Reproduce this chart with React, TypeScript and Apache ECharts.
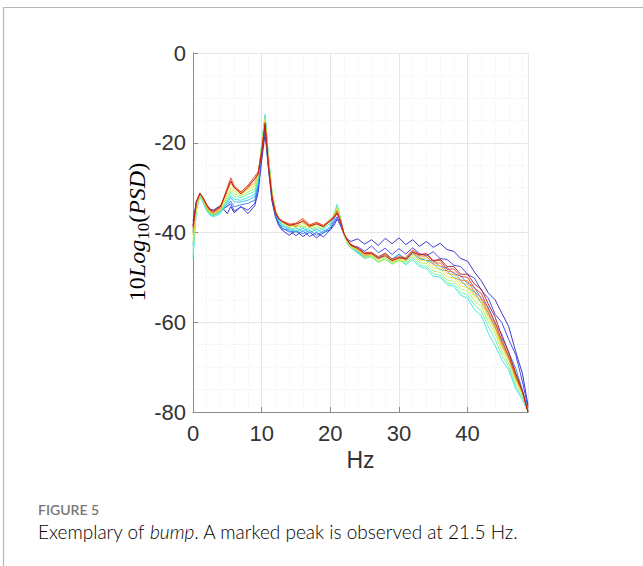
import React, { useEffect, useRef } from "react";
import * as echarts from "echarts";

// Frequency grid (Hz)
const freqs = [0, 0.5, 1, 1.5, 2, 2.5, 3, 4, 5, 5.5, 6, 7, 8, 9, 9.5, 10, 10.5, 11, 11.5, 12, 12.5, 13, 14, 15, 16, 17, 18, 19, 20, 20.5, 21, 21.5, 22, 22.5, 23, 24, 25, 26, 27, 28, 29, 30, 31, 32, 33, 34, 35, 36, 37, 38, 39, 40, 41, 42, 43, 44, 45, 46, 47, 48, 48.8];

// 10*log10(PSD) for each recording (jet colour order: blue -> red)
const psd0 = [-37.5, -33, -32, -32.8, -34, -34.8, -35,
  -34, -35.8, -34.2, -35.6, -34.2, -35.8, -34, -31,
  -24, -18, -26, -33, -36.5, -38.5, -39.5,
  -40.6, -39.6, -40.9, -39.9, -41.2, -40, -39.4,
  -38.5, -37, -38.5, -40.5, -41.5, -42,
  -41.4, -42.6, -41.6, -42.9, -41.3, -42.5, -41.2, -42.7, -41.6, -43.1, -42, -43.3, -42.4, -43.8, -44.2, -45.8, -46.4, -48.8, -50.8, -53.4, -55, -58, -61, -66.5, -71.5,
  -78.5];
const psd1 = [-38.5, -33.5, -32, -33, -34.5, -35.5, -35.8,
  -35, -34.2, -33.6, -35.2, -34.3, -35, -33.5, -30,
  -23, -17, -25, -32.5, -36, -38, -39.2,
  -39.5, -40.7, -39.6, -40.9, -40, -41, -39.4,
  -38, -36.5, -38, -40.5, -42, -43,
  -43.2, -44.2, -43, -44.5, -43.5, -44.9, -43.6, -44.8, -43.4, -44.7, -45.2, -44.3, -45.8, -46, -47.3, -47.6, -49.3, -50.2, -52.9, -54.6, -58.2, -60.1, -63.9, -67.2, -73.3,
  -79];
const psd2 = [-40, -33.8, -31.8, -33, -34.8, -35.8, -36,
  -35.3, -34, -33, -34.3, -33.8, -33.5, -32.8, -29.5,
  -21.5, -14.5, -24, -32, -36, -38, -39,
  -39.9, -39.6, -40.3, -39.5, -40.6, -39.7, -39,
  -37.5, -35, -37.5, -40.5, -42, -43,
  -44.4, -45.5, -44.6, -45.8, -44.7, -46, -44.9, -46.2, -44.6, -45.8, -46.3, -46.2, -47.6, -47.8, -49.2, -49.7, -51.3, -52.2, -54.8, -56.6, -60.3, -62.7, -66.8, -70.2, -75.2,
  -79.5];
const psd3 = [-43, -34, -31.8, -33.2, -35, -36, -36.2,
  -35.5, -33.5, -32.2, -33.2, -33.2, -32.8, -32, -29,
  -21, -14.2, -23.5, -31.5, -35.5, -37.5, -38.6,
  -39.1, -40, -39, -40.1, -39.2, -40.3, -38.6,
  -36.8, -34.2, -37, -40.5, -42.2, -43.2,
  -44.3, -45.3, -44.7, -45.6, -44.6, -45.9, -44.8, -45.9, -44.5, -45.6, -46.3, -46.9, -48.3, -48.5, -50.1, -50.6, -52.3, -53.2, -55.8, -57.7, -61.3, -63.7, -67.8, -71.2, -75.7,
  -79.8];
const psd4 = [-46, -35, -32, -33.5, -35.2, -36.2, -36.5,
  -35.8, -33, -31.8, -32.6, -32.8, -32.2, -31.5, -28,
  -20, -13.7, -23, -31, -35, -37.2, -38.4,
  -39.5, -39, -39.8, -38.9, -39.8, -39.1, -38,
  -36, -33.7, -36.8, -40.6, -42.5, -43.5,
  -44.2, -45.6, -45.2, -46.5, -45.5, -46.9, -45.9, -47.2, -46.1, -47.6, -48, -49.8, -49.9, -51.6, -52, -54, -54.6, -57.2, -58.5, -62.4, -65.2, -68.4, -70.7, -74.8, -77.3,
  -80];
const psd5 = [-45, -34.8, -31.8, -33.2, -35, -36, -36.3,
  -35.5, -32.5, -31, -32, -32.2, -31.5, -30.8, -27.5,
  -20.5, -14, -23.2, -31, -35, -37, -38.2,
  -38.8, -39.6, -38.5, -39.7, -38.7, -39.5, -37.8,
  -36.2, -34, -37, -40.6, -42.4, -43.4,
  -44.7, -45.8, -45.5, -46.7, -45.9, -47, -46.1, -46.9, -45.6, -47.2, -47.5, -49.2, -49.5, -51.2, -51.5, -53.4, -53.9, -56.2, -57.5, -61, -63.7, -67.4, -69.9, -74.2, -76.8,
  -80];
const psd6 = [-44, -34.5, -31.6, -33, -34.8, -35.8, -36,
  -35.2, -32, -30.5, -31.4, -31.8, -31, -30.2, -27.5,
  -20.8, -14.5, -23.5, -31, -35, -36.8, -37.8,
  -38.9, -38.4, -38.8, -38.5, -39.1, -38.4, -37.6,
  -36.2, -34.2, -37.2, -40.6, -42.3, -43.3,
  -44, -45.4, -45.3, -46.6, -46, -47.1, -46.3, -46.6, -45.2, -46.7, -46.9, -48.6, -48.9, -50.6, -50.9, -52.6, -53, -55.2, -56.5, -59.8, -62.5, -66.4, -69.2, -73.4, -76.3,
  -80];
const psd7 = [-42, -34, -31.5, -32.8, -34.5, -35.5, -35.8,
  -35, -31.5, -30, -30.8, -31.5, -30.5, -29.5, -27,
  -21, -15, -24, -31.2, -35, -36.8, -37.8,
  -38.3, -38.9, -37.9, -39, -38.2, -38.9, -37.4,
  -36.3, -34.5, -37.2, -40.5, -42.2, -43.2,
  -43.9, -45.3, -45, -46.4, -45.5, -46.7, -46.1, -46.4, -44.9, -46.2, -46.3, -47.9, -48.1, -49.9, -50.1, -51.9, -52.3, -54.4, -55.7, -58.9, -61.7, -65.6, -68.5, -72.8, -76,
  -80];
const psd8 = [-40.5, -33.6, -31.4, -32.6, -34.3, -35.3, -35.6,
  -34.8, -30.6, -29, -30.2, -31.2, -30, -29, -26.8,
  -21.5, -15.5, -24.5, -31.5, -35.2, -36.8, -37.6,
  -38.6, -38.1, -37.6, -38.8, -37.9, -38.7, -37.3,
  -36.5, -35, -37.3, -40.4, -42, -43,
  -43.8, -45.1, -44.9, -46, -45, -46.4, -45.8, -46, -44.5, -45.7, -45.7, -47.2, -47.4, -49.1, -49.4, -51.2, -51.6, -53.9, -55.1, -58.4, -61.2, -65.2, -68.2, -72.5, -75.8,
  -80];
const psd9 = [-39.5, -33.4, -31.4, -32.5, -34.2, -35.2, -35.5,
  -34.5, -30.2, -28.5, -29.9, -31, -29.6, -28.2, -26.5,
  -21.8, -15.6, -24.8, -31.8, -35.3, -36.8, -37.5,
  -38, -38.7, -37.2, -38.5, -37.9, -38.6, -37.3,
  -36.6, -35.2, -37.4, -40.3, -41.8, -42.8,
  -43.5, -44.9, -44.7, -45.8, -44.9, -46.2, -45.6, -45.9, -44.2, -45.2, -45.3, -46.8, -46.8, -48.6, -48.8, -50.6, -50.8, -53.2, -54.5, -57.8, -60.7, -64.8, -67.9, -72.2, -75.6,
  -80];
const psd10 = [-39, -33.2, -31.3, -32.4, -34, -35, -35.4,
  -34.3, -30, -27.8, -29.6, -31, -29.5, -27.5, -26.5,
  -22, -15.5, -25, -32, -35.5, -36.8, -37.4,
  -38.2, -37.9, -36.9, -38.3, -37.7, -38.4, -37.1,
  -36.5, -35.5, -37.5, -40.2, -41.6, -42.6,
  -43.4, -44.5, -44.4, -45.4, -44.6, -45.9, -45.4, -45.6, -43.9, -44.9, -44.8, -46.4, -46.2, -48.2, -48.1, -49.8, -50, -52.4, -53.6, -57, -59.9, -64.2, -67.5, -71.9, -75.5,
  -80];
const psd11 = [-38.5, -33, -31.2, -32.3, -33.8, -34.8, -35.2,
  -34.2, -30.6, -28.5, -30, -31.4, -30, -28, -27,
  -22.5, -16, -25.5, -32.2, -35.6, -37, -37.6,
  -38.4, -38.1, -37.5, -38.6, -38.1, -38.7, -37.4,
  -36.8, -35.8, -37.6, -40.3, -41.7, -42.8,
  -43.6, -44.7, -44.6, -45.7, -45.2, -46.3, -45.6, -45.9, -44.4, -45, -44.7, -46.3, -45.9, -47.6, -47.6, -49.3, -49.3, -51.5, -52.6, -55.9, -58.8, -63.2, -66.7, -71.3, -75.3,
  -80];

const seriesValues = [psd0, psd1, psd2, psd3, psd4, psd5, psd6, psd7, psd8, psd9, psd10, psd11];
const seriesColors = ["#2626c4", "#3a3af0", "#2f7ff5", "#29b8f0", "#33e6e6", "#66f2a6", "#a6f266", "#e6e633", "#f5b52e", "#f5782a", "#e63a1f", "#b31a1a"];

const xTickInterval = 10;
const yTickInterval = 20;

export default function App() {
  const ref = useRef<HTMLDivElement>(null);

  useEffect(() => {
    if (!ref.current) return;
    const chart = echarts.init(ref.current, undefined, { renderer: "svg" });
    const axisFont = "'Liberation Sans', Arial, Helvetica, sans-serif";
    const capFont = "Lato, 'Open Sans', sans-serif";
    const mathFont = "'Liberation Serif', 'Times New Roman', serif";

    const series = seriesValues.map((vals, k) => ({
      type: "line",
      name: "rec" + k,
      data: freqs.map((f, i) => [f, vals[i]]),
      showSymbol: false,
      symbol: "none",
      lineStyle: { width: 1, color: seriesColors[k], opacity: 0.9 },
      itemStyle: { color: seriesColors[k] },
      z: 3 + k,
      silent: true,
    }));

    chart.setOption({
      animation: false,
      backgroundColor: "#ffffff",
      grid: { left: 193, top: 53, width: 335, height: 359, containLabel: false },
      xAxis: {
        type: "value",
        min: 0,
        max: 48.8,
        interval: xTickInterval,
        name: "Hz",
        nameLocation: "middle",
        nameGap: 33,
        nameTextStyle: { fontFamily: axisFont, fontSize: 23, color: "#333333" },
        axisLine: { show: true, onZero: false, lineStyle: { color: "#8c8c8c", width: 1 } },
        axisTick: { show: true, inside: true, length: 5, lineStyle: { color: "#8c8c8c" } },
        axisLabel: { fontFamily: axisFont, fontSize: 22, color: "#333333", margin: 10, showMaxLabel: false },
        splitLine: { show: true, lineStyle: { color: "#e6e6e6", width: 1 } },
        minorTick: { show: false, splitNumber: 5 },
        minorSplitLine: { show: true, lineStyle: { color: "#ececec", width: 1, type: [1, 2] } },
      },
      yAxis: {
        type: "value",
        min: -80,
        max: 0,
        interval: yTickInterval,
        axisLine: { show: true, onZero: false, lineStyle: { color: "#8c8c8c", width: 1 } },
        axisTick: { show: true, inside: true, length: 5, lineStyle: { color: "#8c8c8c" } },
        axisLabel: { fontFamily: axisFont, fontSize: 22, color: "#333333", margin: 7 },
        splitLine: { show: true, lineStyle: { color: "#e6e6e6", width: 1 } },
        minorTick: { show: false, splitNumber: 4 },
        minorSplitLine: { show: true, lineStyle: { color: "#ececec", width: 1, type: [1, 2] } },
      },
      series,
      graphic: [
        { type: "line", shape: { x1: 3.5, y1: 7.5, x2: 643, y2: 7.5 }, style: { stroke: "#b5b5b5", lineWidth: 1.2 }, silent: true },
        { type: "line", shape: { x1: 3.5, y1: 7.5, x2: 3.5, y2: 566 }, style: { stroke: "#b5b5b5", lineWidth: 1.2 }, silent: true },
        {
          type: "text",
          x: 137,
          y: 232,
          rotation: Math.PI / 2,
          style: {
            text: "{n|10}{i|Log}{s|10}{n|(}{i|PSD}{n|)}",
            align: "center",
            verticalAlign: "middle",
            rich: {
              n: { fontFamily: mathFont, fontSize: 24, color: "#333333", lineHeight: 30 },
              i: { fontFamily: mathFont, fontSize: 24, fontStyle: "italic", color: "#333333", lineHeight: 30 },
              s: { fontFamily: mathFont, fontSize: 17, color: "#333333", lineHeight: 17, verticalAlign: "bottom" },
            },
          },
        },
        {
          type: "text",
          x: 38,
          y: 509,
          style: { text: "FIGURE 5", fontFamily: capFont, fontSize: 14, fontWeight: 600, fill: "#777777", verticalAlign: "middle" },
        },
        {
          type: "text",
          x: 38,
          y: 531,
          style: {
            text: "{a|Exemplary of }{b|bump}{a|. A marked peak is observed at 21.5 Hz.}",
            verticalAlign: "middle",
            rich: {
              a: { fontFamily: capFont, fontSize: 19, fontWeight: 300, color: "#555555" },
              b: { fontFamily: capFont, fontSize: 19, fontWeight: 300, fontStyle: "italic", color: "#555555" },
            },
          },
        },
      ],
    });

    return () => chart.dispose();
  }, []);

  return (
    <div
      ref={ref}
      style={{ position: "absolute", left: 0, top: 0, width: 643, height: 566, background: "#fff" }}
    />
  );
}
